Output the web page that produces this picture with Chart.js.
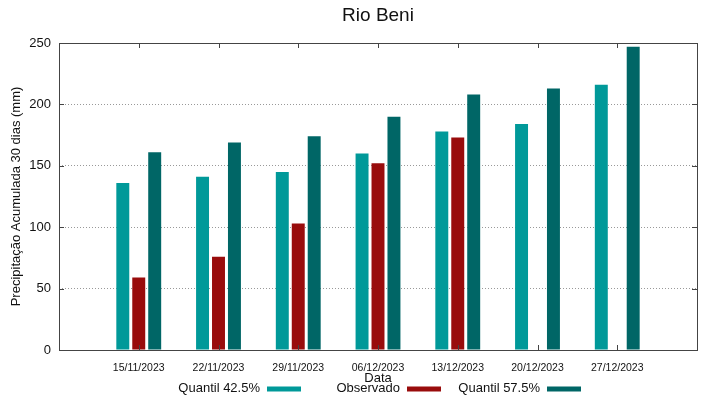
<!DOCTYPE html>
<html lang="pt">
<head>
    <meta charset="UTF-8">
    <title>Rio Beni</title>
    <script src="https://cdn.jsdelivr.net/npm/chart.js@4.4.1/dist/chart.umd.min.js"></script>
    <style>
        html, body { margin: 0; padding: 0; background: #fff; }
        #wrap { width: 719px; height: 399px; }
    </style>
</head>
<body>
<div id="wrap"><canvas id="grafico" width="719" height="399"></canvas></div>
<script>
    // datas (eixo x)
    const datas = ['15/11/2023', '22/11/2023', '29/11/2023', '06/12/2023', '13/12/2023', '20/12/2023', '27/12/2023'];
    // séries (mm)
    const quantil425 = [136, 141, 145, 160, 178, 184, 216];
    const observado  = [59, 76, 103, 152, 173, null, null];
    const quantil575 = [161, 169, 174, 190, 208, 213, 247];
    const yTicks = [0, 50, 100, 150, 200, 250];

    const cores = { q425: '#009999', obs: '#990c0c', q575: '#006666' };
    const fonte = 'Liberation Sans, Arial, sans-serif';

    function pontos(arr) {
        return arr.map((v, i) => ({ x: i, y: v }));
    }

    // título, caixa, ticks para dentro e legenda estilo gnuplot
    const estiloGnuplot = {
        id: 'estiloGnuplot',
        afterDraw(chart) {
            const ctx = chart.ctx;
            const a = chart.chartArea;
            const xs = chart.scales.x, ys = chart.scales.y;
            ctx.save();

            // caixa
            ctx.strokeStyle = '#444';
            ctx.lineWidth = 1;
            ctx.strokeRect(Math.round(a.left) + 0.5, Math.round(a.top) + 0.5,
                Math.round(a.right - a.left), Math.round(a.bottom - a.top));

            // ticks
            ctx.beginPath();
            datas.forEach((d, i) => {
                const px = Math.round(xs.getPixelForValue(i)) + 0.5;
                ctx.moveTo(px, a.top); ctx.lineTo(px, a.top + 5);
                ctx.moveTo(px, a.bottom); ctx.lineTo(px, a.bottom - 5);
            });
            yTicks.forEach(v => {
                const py = Math.round(ys.getPixelForValue(v)) + 0.5;
                ctx.moveTo(a.left, py); ctx.lineTo(a.left + 5, py);
                ctx.moveTo(a.right, py); ctx.lineTo(a.right - 5, py);
            });
            ctx.stroke();

            // título
            ctx.fillStyle = '#111';
            ctx.font = '19px ' + fonte;
            ctx.textAlign = 'center';
            ctx.textBaseline = 'middle';
            ctx.fillText('Rio Beni', (a.left + a.right) / 2, 16);

            // legenda: texto à direita alinhado e amostra depois
            ctx.font = '13px ' + fonte;
            ctx.textAlign = 'right';
            const fimTexto = [260, 400, 540];
            chart.data.datasets.forEach((ds, i) => {
                ctx.fillStyle = '#111';
                ctx.fillText(ds.label, fimTexto[i], 388);
                ctx.fillStyle = ds.backgroundColor;
                ctx.fillRect(fimTexto[i] + 7, 386.5, 34, 5);
            });
            ctx.restore();
        }
    };

    new Chart(document.getElementById('grafico'), {
        type: 'bar',
        data: {
            datasets: [
                { label: 'Quantil 42.5%', data: pontos(quantil425), backgroundColor: cores.q425 },
                { label: 'Observado', data: pontos(observado), backgroundColor: cores.obs },
                { label: 'Quantil 57.5%', data: pontos(quantil575), backgroundColor: cores.q575 }
            ]
        },
        options: {
            responsive: false,
            animation: false,
            categoryPercentage: 0.6,
            barPercentage: 0.8125,
            layout: { padding: { top: 43, right: 22, left: 0, bottom: 0 } },
            plugins: {
                legend: { display: false },
                title: { display: false },
                tooltip: { enabled: false }
            },
            scales: {
                x: {
                    type: 'linear',
                    min: -1,
                    max: 7,
                    offset: false,
                    afterFit: s => { s.height = 49; },
                    grid: { display: false, drawTicks: false },
                    border: { display: false },
                    ticks: {
                        stepSize: 1,
                        autoSkip: false,
                        maxRotation: 0,
                        padding: 12,
                        color: '#111',
                        font: { family: fonte, size: 10.5 },
                        callback: v => datas[v] || ''
                    },
                    title: {
                        display: true,
                        text: 'Data',
                        color: '#111',
                        font: { family: fonte, size: 13 },
                        padding: { top: 0, bottom: 13 }
                    }
                },
                y: {
                    min: 0,
                    max: 250,
                    afterFit: s => { s.width = 59; },
                    grid: {
                        drawTicks: false,
                        color: c => (c.tick && c.tick.value > 0 && c.tick.value < 250) ? '#999' : 'rgba(0,0,0,0)'
                    },
                    border: { display: false, dash: [1, 2] },
                    ticks: {
                        stepSize: 50,
                        padding: 8,
                        color: '#111',
                        font: { family: fonte, size: 13 }
                    },
                    title: {
                        display: true,
                        text: 'Precipitação Acumulada 30 dias (mm)',
                        color: '#111',
                        font: { family: fonte, size: 13 },
                        padding: { top: 9, bottom: 0 }
                    }
                }
            }
        },
        plugins: [estiloGnuplot]
    });
</script>
</body>
</html>
